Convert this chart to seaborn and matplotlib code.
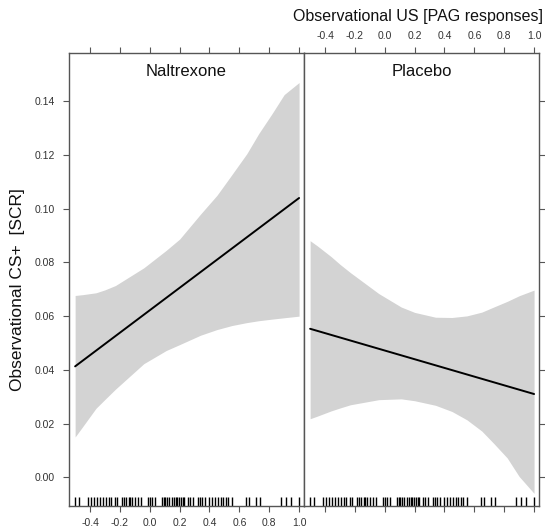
import numpy as np
import pandas as pd
import seaborn as sns
import matplotlib.pyplot as plt

# --- values
groups = ["Naltrexone", "Placebo"]

x_grid = [-0.50, -0.45, -0.36, -0.30, -0.23, -0.04, 0.11, 0.20, 0.34, 0.45, 0.55, 0.65, 0.73, 0.82, 0.90, 1.00]
nal_upper = [0.0677, 0.0680, 0.0687, 0.0698, 0.0714, 0.0780, 0.0845, 0.0887, 0.0980, 0.1050, 0.1127, 0.1205, 0.1280, 0.1355, 0.1425, 0.1470]
nal_lower = [0.0150, 0.0188, 0.0257, 0.0290, 0.0328, 0.0423, 0.0472, 0.0494, 0.0529, 0.0550, 0.0565, 0.0576, 0.0583, 0.0589, 0.0594, 0.0600]
pla_upper = [0.0881, 0.0861, 0.0822, 0.0793, 0.0762, 0.0684, 0.0634, 0.0614, 0.0596, 0.0595, 0.0601, 0.0615, 0.0634, 0.0655, 0.0676, 0.0697]
pla_lower = [0.0218, 0.0228, 0.0247, 0.0258, 0.0270, 0.0289, 0.0292, 0.0285, 0.0268, 0.0245, 0.0214, 0.0172, 0.0126, 0.0072, 0.0003, -0.0060]

fit_x = [-0.50, 1.00]
nal_fit = [0.0413, 0.1040]
pla_fit = [0.0553, 0.0310]

# observed PAG responses (rug)
rug_x = [-0.498, -0.475, -0.412, -0.393, -0.372, -0.353, -0.334, -0.311, -0.295, -0.276,
         -0.259, -0.236, -0.222, -0.189, -0.170, -0.159, -0.142, -0.131, -0.119, -0.096,
         -0.077, -0.060, -0.014, 0.003, 0.017, 0.033, 0.080, 0.092, 0.104, 0.115,
         0.132, 0.146, 0.162, 0.174, 0.185, 0.197, 0.209, 0.221, 0.232, 0.256,
         0.267, 0.291, 0.321, 0.338, 0.349, 0.373, 0.396, 0.420, 0.438, 0.455,
         0.474, 0.490, 0.509, 0.525, 0.548, 0.642, 0.666, 0.712, 0.736, 0.876,
         0.911, 0.947, 1.000]

x_ticks = [-0.4, -0.2, 0.0, 0.2, 0.4, 0.6, 0.8, 1.0]
y_ticks = [0.00, 0.02, 0.04, 0.06, 0.08, 0.10, 0.12, 0.14]

sns.set_theme(style="ticks")
plt.rcParams['font.family'] = ['Liberation Sans', 'DejaVu Sans']

band_df = pd.concat([
    pd.DataFrame({'group': 'Naltrexone', 'x': x_grid, 'lower': nal_lower, 'upper': nal_upper}),
    pd.DataFrame({'group': 'Placebo', 'x': x_grid, 'lower': pla_lower, 'upper': pla_upper}),
], ignore_index=True)
fit_df = pd.concat([
    pd.DataFrame({'group': 'Naltrexone', 'x': fit_x, 'y': nal_fit}),
    pd.DataFrame({'group': 'Placebo', 'x': fit_x, 'y': pla_fit}),
], ignore_index=True)

W, H = 545, 531
fig = plt.figure(figsize=(W / 100, H / 100), dpi=100)
left, right, divider, top, bottom = 69, 539, 304, 53, 506
ax_l = fig.add_axes([left / W, 1 - bottom / H, (divider - left) / W, (bottom - top) / H])
ax_r = fig.add_axes([divider / W, 1 - bottom / H, (right - divider) / W, (bottom - top) / H], sharey=ax_l)

frame_col = '#555555'
text_col = '#333333'

for ax, grp in zip([ax_l, ax_r], groups):
    b = band_df.query("group == @grp")
    ax.fill_between(b['x'], b['lower'], b['upper'], color='#d3d3d3', lw=0)
    sns.lineplot(data=fit_df.query("group == @grp"), x='x', y='y', color='black', lw=1.4, ax=ax)
    sns.rugplot(x=rug_x, height=0.02, color='black', lw=0.7, ax=ax)
    ax.set_xlim(-0.541, 1.033)
    ax.set_ylim(-0.0107, 0.158)
    ax.set_xticks(x_ticks)
    ax.set_yticks(y_ticks)
    ax.set_xticklabels([f"{t:.1f}" for t in x_ticks])
    ax.set_yticklabels([f"{t:.2f}" for t in y_ticks])
    ax.set_xlabel('')
    ax.set_ylabel('')
    for s in ax.spines.values():
        s.set_visible(True)
        s.set_color(frame_col)
        s.set_linewidth(1.0)
    ax.tick_params(direction='out', length=4.3, width=0.8, color=frame_col,
                   labelsize=7.5, labelcolor=text_col, top=True, bottom=True)
    ax.tick_params(axis='x', pad=4)
    ax.tick_params(axis='y', pad=6)
    ax.text(0.5, 1 - (72 - top) / (bottom - top), grp, transform=ax.transAxes,
            ha='center', va='center', fontsize=12, color='#111111')

ax_l.tick_params(left=True, right=False, labelleft=True, labelbottom=True, labeltop=False)
ax_r.tick_params(left=False, right=True, labelleft=False, labelright=False,
                 labelbottom=False, labeltop=True)

fig.text(543 / W, 1 - 17 / H, "Observational US [PAG responses]", ha='right', va='center',
         fontsize=11.5, color='#111111')
fig.text(18 / W, 1 - 290 / H, "Observational CS+  [SCR]", rotation=90, ha='center', va='center',
         fontsize=12.5, color='#111111')

fig.savefig('out.png', dpi=100)
